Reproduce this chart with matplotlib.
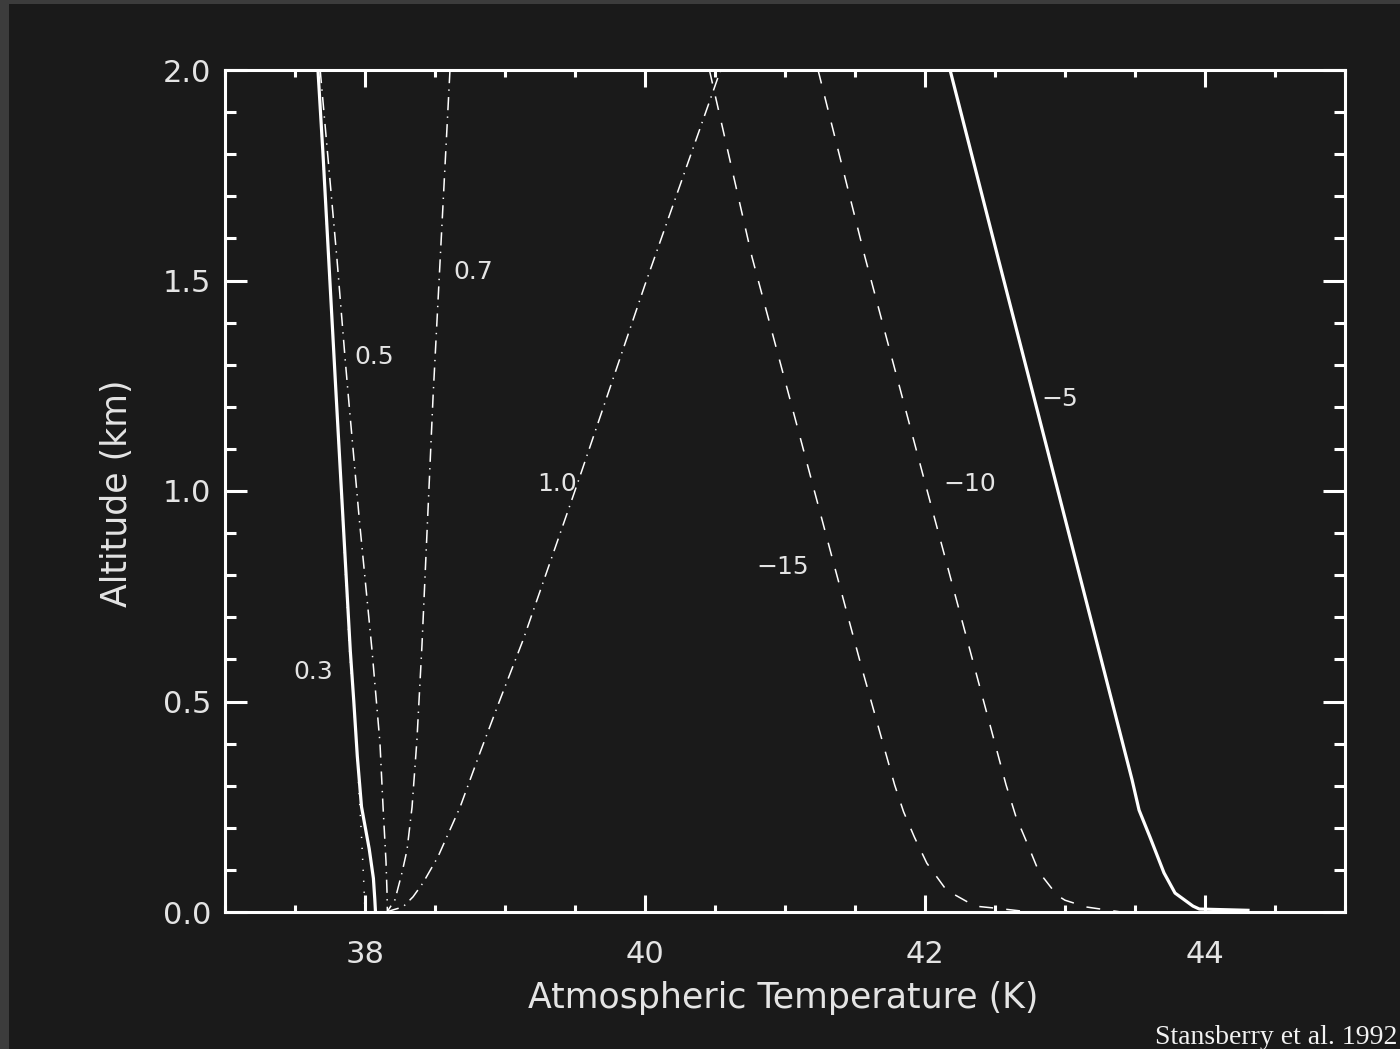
import matplotlib
matplotlib.use("Agg")
import matplotlib.pyplot as plt
from matplotlib.ticker import MultipleLocator, FormatStrFormatter
from matplotlib.patches import Rectangle

# Perfiles de temperatura atmosférica (K) frente a altitud (km)
T_03 = [37.664, 37.70, 37.79, 37.895, 37.92, 37.945, 37.975, 38.03, 38.06, 38.07, 38.075]
Z_03 = [2.0, 1.80, 1.25, 0.62, 0.50, 0.37, 0.25, 0.15, 0.08, 0.03, 0.0]

T_PUNTEADA = [37.664, 37.79, 37.89, 37.94, 37.955, 37.975, 37.99, 38.0]
Z_PUNTEADA = [2.0, 1.25, 0.62, 0.40, 0.30, 0.18, 0.08, 0.0]

T_05 = [37.68, 37.80, 37.857, 37.879, 37.96, 38.05, 38.107, 38.129, 38.15, 38.157, 38.16]
Z_05 = [2.0, 1.55, 1.318, 1.233, 0.93, 0.622, 0.401, 0.249, 0.12, 0.05, 0.0]

T_07 = [38.607, 38.486, 38.407, 38.371, 38.336, 38.30, 38.264, 38.214, 38.157]
Z_07 = [2.0, 1.223, 0.634, 0.409, 0.249, 0.147, 0.093, 0.029, 0.0]

T_10 = [38.15, 38.2, 38.271, 38.343, 38.414, 38.521, 38.679, 38.821, 38.964, 39.129, 39.52, 40.0, 40.54]
Z_10 = [0.0, 0.005, 0.012, 0.036, 0.069, 0.131, 0.249, 0.378, 0.504, 0.646, 1.02, 1.49, 2.0]

T_M15 = [40.46, 40.764, 41.05, 41.33, 41.54, 41.783, 41.847, 41.924, 42.013, 42.153, 42.357, 42.536, 42.75]
Z_M15 = [2.0, 1.556, 1.20, 0.85, 0.59, 0.302, 0.238, 0.178, 0.116, 0.052, 0.014, 0.008, 0.0]

T_M10 = [41.236, 41.571, 42.0, 42.579, 42.65, 42.729, 42.814, 42.943, 43.0, 43.15, 43.4]
Z_M10 = [2.0, 1.556, 1.02, 0.302, 0.226, 0.164, 0.095, 0.04, 0.028, 0.012, 0.0]

T_M5 = [42.179, 42.52, 42.814, 43.479, 43.529, 43.607, 43.707, 43.786, 43.914, 43.96, 44.307]
Z_M5 = [2.0, 1.556, 1.176, 0.314, 0.242, 0.178, 0.093, 0.045, 0.014, 0.007, 0.004]

# Etiquetas de cada curva: (texto, temperatura, altitud)
ETIQUETAS = [
    ("0.3", 37.629, 0.570),
    ("0.5", 38.064, 1.318),
    ("0.7", 38.771, 1.520),
    ("1.0", 39.371, 1.017),
    ("\u221215", 40.986, 0.819),
    ("\u221210", 42.321, 1.017),
    ("\u22125", 42.964, 1.219),
]

# --- ESTILO ---
FONDO = "#1a1a1a"
BORDE = "#3c3c3c"
BLANCO = "#ffffff"
TEXTO = "#e4e4e4"
ANCHO_PX, ALTO_PX, DPI = 1400, 1049, 100

plt.rcParams["lines.scale_dashes"] = False
plt.rcParams["font.family"] = ["DejaVu Sans"]

fig = plt.figure(figsize=(ANCHO_PX / DPI, ALTO_PX / DPI), dpi=DPI, facecolor=FONDO)
ax = fig.add_axes([225 / ANCHO_PX, 1 - 912 / ALTO_PX, 1120 / ANCHO_PX, 842 / ALTO_PX])
ax.set_facecolor(FONDO)

# franjas claras del marco superior e izquierdo
fig.add_artist(Rectangle((0, 1 - 4 / ALTO_PX), 1, 4 / ALTO_PX, transform=fig.transFigure,
                         color=BORDE, lw=0))
fig.add_artist(Rectangle((0, 0), 9 / ANCHO_PX, 1, transform=fig.transFigure,
                         color=BORDE, lw=0))

GRUESA = 2.3
FINA = 1.1
raya_punto = (0, (9.5, 4.5, 1.0, 4.5))
rayas = (0, (10.0, 9.5))
puntos = (0, (0.9, 7.0))

ax.plot(T_03, Z_03, color=BLANCO, lw=GRUESA, solid_joinstyle="miter")
ax.plot(T_PUNTEADA, Z_PUNTEADA, color=BLANCO, lw=FINA, linestyle=puntos)
ax.plot(T_05, Z_05, color=BLANCO, lw=FINA, linestyle=raya_punto)
ax.plot(T_07, Z_07, color=BLANCO, lw=FINA, linestyle=raya_punto)
ax.plot(T_10, Z_10, color=BLANCO, lw=FINA, linestyle=raya_punto)
ax.plot(T_M15, Z_M15, color=BLANCO, lw=FINA, linestyle=rayas)
ax.plot(T_M10, Z_M10, color=BLANCO, lw=FINA, linestyle=rayas)
ax.plot(T_M5, Z_M5, color=BLANCO, lw=GRUESA)

for texto, t, z in ETIQUETAS:
    ax.text(t, z, texto, color=TEXTO, fontsize=18, ha="center", va="center")

ax.set_xlim(37, 45)
ax.set_ylim(0, 2.0)

ax.xaxis.set_major_locator(MultipleLocator(2))
ax.xaxis.set_minor_locator(MultipleLocator(0.5))
ax.yaxis.set_major_locator(MultipleLocator(0.5))
ax.yaxis.set_minor_locator(MultipleLocator(0.1))
ax.yaxis.set_major_formatter(FormatStrFormatter("%.1f"))

for lado in ax.spines.values():
    lado.set_color(BLANCO)
    lado.set_linewidth(2.2)

ax.tick_params(axis="both", which="both", direction="in", colors=BLANCO, width=2.2,
               top=True, right=True, labelcolor=TEXTO, labelsize=22)
ax.tick_params(axis="x", which="major", length=12, pad=20)
ax.tick_params(axis="x", which="minor", length=5)
ax.tick_params(axis="y", which="major", length=16, pad=10)
ax.tick_params(axis="y", which="minor", length=8)

ax.set_xlabel("Atmospheric Temperature (K)", color=TEXTO, fontsize=25)
ax.set_ylabel("Altitude (km)", color=TEXTO, fontsize=25)
ax.xaxis.set_label_coords(0.498, -0.102)
ax.yaxis.set_label_coords(-0.0964, 0.4976)
ax.xaxis.label.set_va("center")
ax.yaxis.label.set_va("center")

fig.text(1 - 3 / ANCHO_PX, 1 - 1044 / ALTO_PX, "Stansberry et al. 1992", color="#f2f2f2",
         fontsize=20, family="Liberation Serif", ha="right", va="baseline")

fig.savefig("out.png", dpi=DPI, facecolor=FONDO)
plt.close(fig)
